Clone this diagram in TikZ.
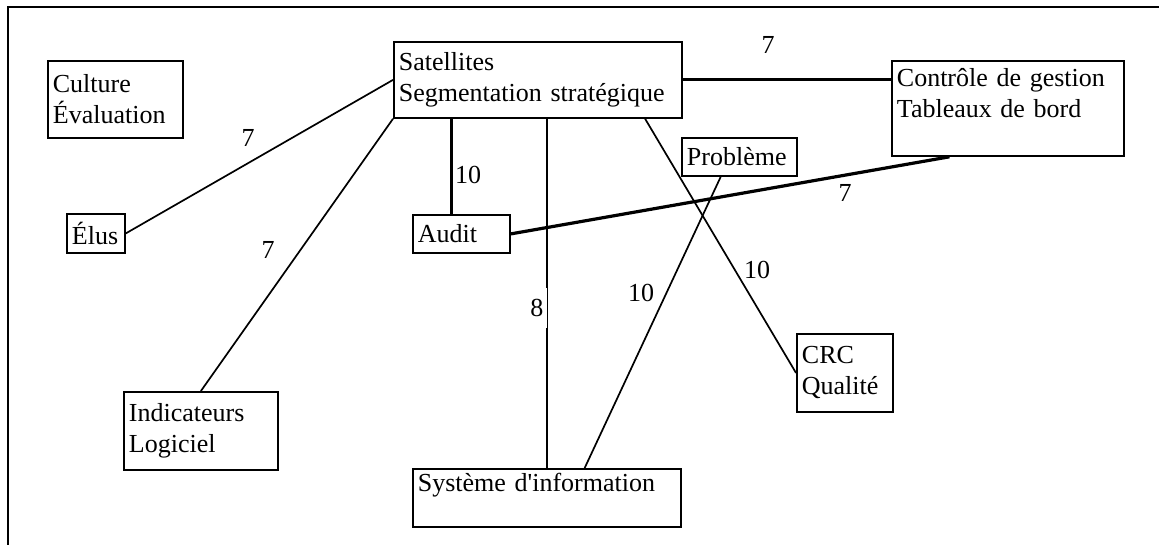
\documentclass[tikz,border=0pt]{standalone}
\usepackage{fontspec}
\setmainfont{Liberation Serif}
\usetikzlibrary{calc}
\newcommand{\taille}{\fontsize{26}{31}\selectfont}

\begin{document}
\begin{tikzpicture}[x=1pt, y=-1pt,
	boite/.style={draw, line width=1.8pt, anchor=north west, align=left, inner xsep=5pt, inner ysep=0pt, font=\taille},
	lien/.style={line width=1.7pt},
	lienfort/.style={line width=3.2pt},
	poids/.style={font=\taille, inner sep=1pt}]
			\useasboundingbox (0,0) rectangle (1159,545);
			\draw [line width=2pt] (8,545) to (8,7) to (1159,7);

			\node [boite, text width=125pt, minimum height=77pt] (cult) at (47,60) {Culture\\Évaluation};
			\node [boite, text width=48pt, minimum height=39pt] (elus) at (66,213) {Élus};
			\node [boite, text width=278pt, minimum height=76pt] (sat) at (393,41) {Satellites\\Segmentation stratégique};
			\node [boite, text width=87pt, minimum height=38pt] (aud) at (412,214) {Audit};
			\node [boite, text width=105pt, minimum height=38pt] (prob) at (681,137) {Problème};
			\node [boite, text width=222pt, minimum height=95pt] (ctrl) at (891,60) {Contrôle de gestion\\Tableaux de bord\\\mbox{}};
			\node [boite, text width=86pt, minimum height=78pt] (crc) at (796,333) {CRC\\Qualité};
			\node [boite, text width=144pt, minimum height=78pt] (ind) at (123,391) {Indicateurs\\Logiciel};
			\node [boite, text width=258pt, minimum height=58pt] (sys) at (412,468) {Système d\textquotesingle information\\\mbox{}};

			\draw [lien] (sat.west) to (elus.east);
			\draw [lien] (sat.south west) to (ind.north);
			\coordinate (haud) at ($(aud.north west)!.4!(aud.north east)$);
			\draw [lienfort] (haud) to (haud |- sat.south);
			\draw [lien] (sys.north) to (sys.north |- sat.south);
			\draw [lien] ($(prob.south west)!.34!(prob.south east)$) to ($(sys.north west)!.64!(sys.north east)$);
			\draw [lien] ($(sat.south west)!.87!(sat.south east)$) to (crc.west);
			\draw [lienfort] (sat.east) to (sat.east -| ctrl.west);
			\draw [lienfort] (aud.east) to ($(ctrl.south west)!.25!(ctrl.south east)$);

			\node [poids] (p7elus) at (248,138) {7};
			\node [poids] (p7ind) at (268,250) {7};
			\node [poids] (p10aud) at (468,175) {10};
			\node [poids, fill=white, anchor=east, inner xsep=3.5pt, inner ysep=11pt] (p8sys) at (547,308) {8};
			\node [poids] (p10prob) at (641,293) {10};
			\node [poids] (p10crc) at (757,270) {10};
			\node [poids] (p7ctrl) at (768,45) {7};
			\node [poids] (p7aud) at (845,193) {7};
		\end{tikzpicture}
\end{document}
